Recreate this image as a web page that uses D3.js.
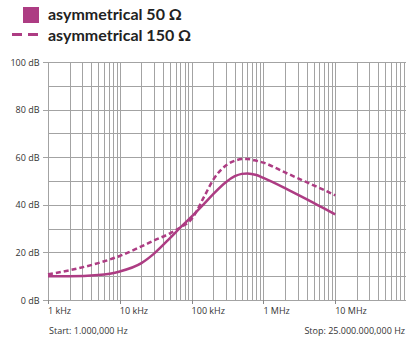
<!DOCTYPE html>
<html>
<head>
<meta charset="utf-8">
<script src="https://cdn.jsdelivr.net/npm/d3@7"></script>
<style>
  body { margin: 0; background: #fff; }
  svg { display: block; }
</style>
</head>
<body>
<svg id="chart"></svg>
<script>
// frequencies in Hz, levels in dB
var freqs = [1e3, 2e3, 5e3, 1e4, 2e4, 3e4, 5e4, 7e4, 1e5, 1.5e5, 2e5, 3e5, 4e5, 5e5, 6e5, 8e5, 1e6, 2e6, 3e6, 5e6, 7e6, 1e7];
var sym50 = [10, 10, 10.5, 12, 15.5, 19.5, 26, 30.5, 35, 40.5, 44.5, 49.5, 52, 53, 53.2, 52.5, 51.3, 47, 44.3, 40.8, 38.5, 36];
var sym150 = [10.8, 12.5, 15.5, 18.5, 22.5, 25, 28, 30.5, 34, 43.5, 50.5, 56.5, 58.5, 59.2, 59.2, 58.5, 57.7, 53.6, 51.2, 48.2, 46.2, 44];

var seriesNames = ["asymmetrical 50 \u03a9", "asymmetrical 150 \u03a9"];
var xTickVals = [1e3, 1e4, 1e5, 1e6, 1e7];
var xTickLabels = ["1 kHz", "10 kHz", "100 kHz", "1 MHz", "10 MHz"];
var yTickVals = [0, 20, 40, 60, 80, 100];
var startLabel = "Start: 1.000,000 Hz";
var stopLabel = "Stop: 25.000.000,000 Hz";

var width = 406, height = 346;
var col = "#ad3c83";
var gridCol = "#a3a3a3";
var font = "'Open Sans', sans-serif";

var svg = d3.select("#chart").attr("width", width).attr("height", height);

var x = d3.scaleLog().domain([1e3, 1e8]).range([48, 407]);
var y = d3.scaleLinear().domain([0, 100]).range([300, 62]);

// grid: vertical lines at every 1..9 x decade
var vlines = [];
for (var d = 1e3; d < 1e8; d *= 10)
  for (var k = 1; k < 10; k++) vlines.push(d * k);
vlines.push(1e8);

var grid = svg.append("g");
grid.selectAll("line.v").data(vlines).enter().append("line")
  .attr("x1", function(f){ return Math.round(x(f)) + 0.5; })
  .attr("x2", function(f){ return Math.round(x(f)) + 0.5; })
  .attr("y1", y(100)).attr("y2", y(0))
  .style("stroke", gridCol).style("stroke-width", 1);

grid.selectAll("line.h").data(d3.range(0, 101, 10)).enter().append("line")
  .attr("x1", x(1e3)).attr("x2", width)
  .attr("y1", function(v){ return Math.round(y(v)) + 0.5; })
  .attr("y2", function(v){ return Math.round(y(v)) + 0.5; })
  .style("stroke", gridCol).style("stroke-width", 1);

// y ticks and labels
grid.selectAll("line.yt").data(yTickVals).enter().append("line")
  .attr("x1", 43).attr("x2", x(1e3))
  .attr("y1", function(v){ return Math.round(y(v)) + 0.5; })
  .attr("y2", function(v){ return Math.round(y(v)) + 0.5; })
  .style("stroke", gridCol);

svg.selectAll("text.yl").data(yTickVals).enter().append("text")
  .attr("x", 39.5).attr("y", function(v){ return y(v) + 3.5; })
  .attr("text-anchor", "end")
  .style("font-family", font).style("font-size", "9px").style("fill", "#333")
  .text(function(v){ return v + " dB"; });

// x decade ticks and labels
grid.selectAll("line.xt").data(xTickVals).enter().append("line")
  .attr("x1", function(f){ return Math.round(x(f)) + 0.5; })
  .attr("x2", function(f){ return Math.round(x(f)) + 0.5; })
  .attr("y1", y(0)).attr("y2", y(0) + 4)
  .style("stroke", "#888");

svg.selectAll("text.xl").data(xTickVals).enter().append("text")
  .attr("x", function(f){ return x(f); }).attr("y", 314)
  .style("font-family", font).style("font-size", "9px").style("fill", "#333")
  .text(function(f, i){ return xTickLabels[i]; });

svg.append("text").attr("x", 49).attr("y", 334)
  .style("font-family", font).style("font-size", "9px").style("fill", "#333")
  .text(startLabel);
svg.append("text").attr("x", 405).attr("y", 334).attr("text-anchor", "end")
  .style("font-family", font).style("font-size", "9px").style("fill", "#333")
  .text(stopLabel);

// curves
var line = d3.line()
  .x(function(d){ return x(d[0]); })
  .y(function(d){ return y(d[1]); })
  .curve(d3.curveMonotoneX);

svg.append("path").datum(d3.zip(freqs, sym150))
  .attr("d", line)
  .style("fill", "none").style("stroke", col).style("stroke-width", 2.5)
  .style("stroke-dasharray", "5,3");

svg.append("path").datum(d3.zip(freqs, sym50))
  .attr("d", line)
  .style("fill", "none").style("stroke", col).style("stroke-width", 2.5);

// legend
var lg = svg.append("g");
lg.append("rect").attr("x", 23).attr("y", 7).attr("width", 16).attr("height", 16)
  .style("fill", col);
lg.append("line").attr("x1", 12).attr("x2", 39).attr("y1", 34.5).attr("y2", 34.5)
  .style("stroke", col).style("stroke-width", 3).style("stroke-dasharray", "10,6");
lg.selectAll("text").data(seriesNames).enter().append("text")
  .attr("x", 48).attr("y", function(d, i){ return 20 + i * 21; })
  .style("font-family", "Lato, sans-serif").style("font-weight", "bold")
  .style("font-size", "16px").style("fill", "#222")
  .text(function(d){ return d; });
</script>
</body>
</html>
